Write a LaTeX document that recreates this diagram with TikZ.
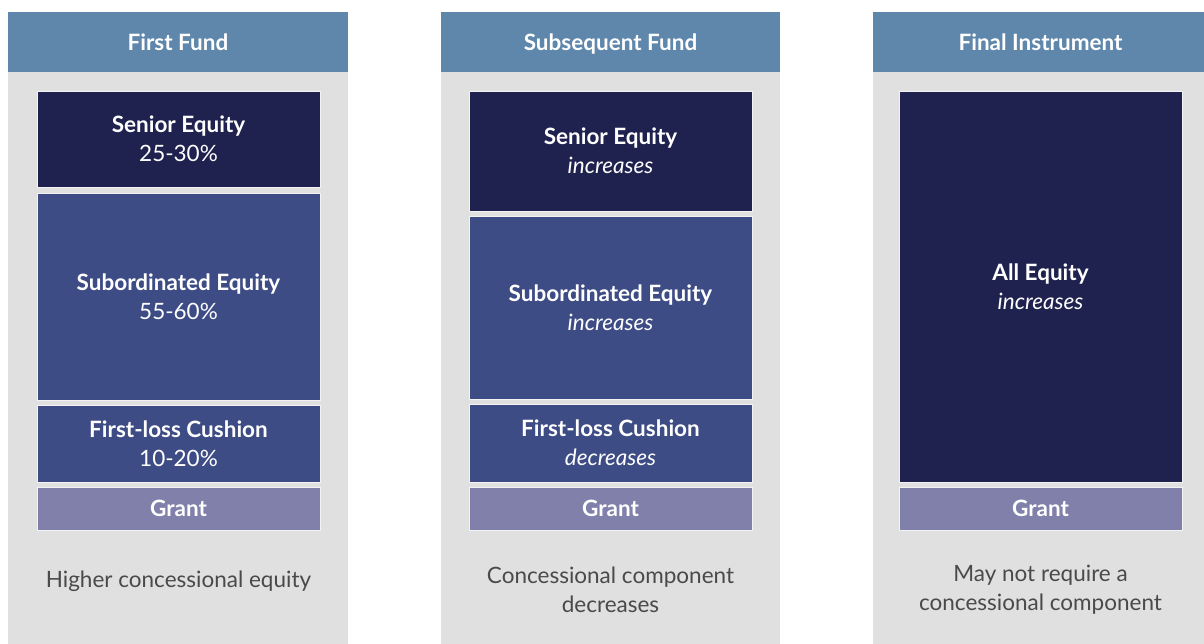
\documentclass[tikz,border=0pt]{standalone}
\usepackage{fontspec}
\setmainfont{Lato}
\definecolor{hdr}{HTML}{5F87AB}
\definecolor{colbg}{HTML}{E0E0E0}
\definecolor{navy}{HTML}{1F224F}
\definecolor{midblue}{HTML}{3E4C86}
\definecolor{grantc}{HTML}{8180AB}
\definecolor{note}{HTML}{4A4A4A}
\begin{document}
\begin{tikzpicture}[x=1pt,y=-1pt,
  colbox/.style={draw=none,fill=colbg,anchor=north west,inner sep=0pt},
  hdrbox/.style={draw=none,fill=hdr,anchor=north west,inner sep=0pt},
  hdrtext/.style={text=white,anchor=base,font=\fontsize{22.5}{29}\selectfont\bfseries},
  layer/.style={draw=white!60!colbg,line width=0.6pt,inner sep=0pt,minimum width=283pt,text=white,align=center,font=\fontsize{22.5}{29}\selectfont},
  notetext/.style={text=note,align=center,font=\fontsize{22.5}{29}\selectfont}]
\useasboundingbox (0,0) rectangle (1204,644);
\fill[white] (0,0) rectangle (1204,644);
% columns
\node[colbox,minimum width=340pt,minimum height=632pt] (c1) at (8,12) {};
\node[colbox,minimum width=339pt,minimum height=632pt] (c2) at (441,12) {};
\node[colbox,minimum width=331pt,minimum height=632pt] (c3) at (873,12) {};
\node[hdrbox,minimum width=340pt,minimum height=60pt] (h1) at (8,12) {};
\node[hdrbox,minimum width=339pt,minimum height=60pt] (h2) at (441,12) {};
\node[hdrbox,minimum width=331pt,minimum height=60pt] (h3) at (873,12) {};
\node[hdrtext] (t1) at (178,51) {First Fund};
\node[hdrtext] (t2) at (610.5,51) {Subsequent Fund};
\node[hdrtext] (t3) at (1040.5,51) {Final Instrument};
% column 1
\node[layer,fill=navy,minimum height=96pt] (s1) at (178.5,139) {\textbf{Senior Equity}\\25-30\%};
\node[layer,fill=midblue,minimum height=207pt] (b1) at (178.5,296.5) {\textbf{Subordinated Equity}\\55-60\%};
\node[layer,fill=midblue,minimum height=77pt] (f1) at (178.5,443.5) {\textbf{First-loss Cushion}\\10-20\%};
\node[layer,fill=grantc,minimum height=43pt] (g1) at (178.5,508.5) {\textbf{Grant}};
\node[notetext] (n1) at (178.5,581) {Higher concessional equity};
% column 2
\node[layer,fill=navy,minimum height=120pt] (s2) at (610.5,151) {\textbf{Senior Equity}\\\textit{increases}};
\node[layer,fill=midblue,minimum height=183pt] (b2) at (610.5,307.5) {\textbf{Subordinated Equity}\\\textit{increases}};
\node[layer,fill=midblue,minimum height=78pt] (f2) at (610.5,443) {\textbf{First-loss Cushion}\\\textit{decreases}};
\node[layer,fill=grantc,minimum height=43pt] (g2) at (610.5,508.5) {\textbf{Grant}};
\node[notetext] (n2) at (610.5,590) {Concessional component\\decreases};
% column 3
\node[layer,fill=navy,minimum height=391pt] (a3) at (1040.5,286.5) {\textbf{All Equity}\\\textit{increases}};
\node[layer,fill=grantc,minimum height=43pt] (g3) at (1040.5,508.5) {\textbf{Grant}};
\node[notetext] (n3) at (1040.5,589.5) {May not require a\\concessional component};
\end{tikzpicture}
\end{document}
